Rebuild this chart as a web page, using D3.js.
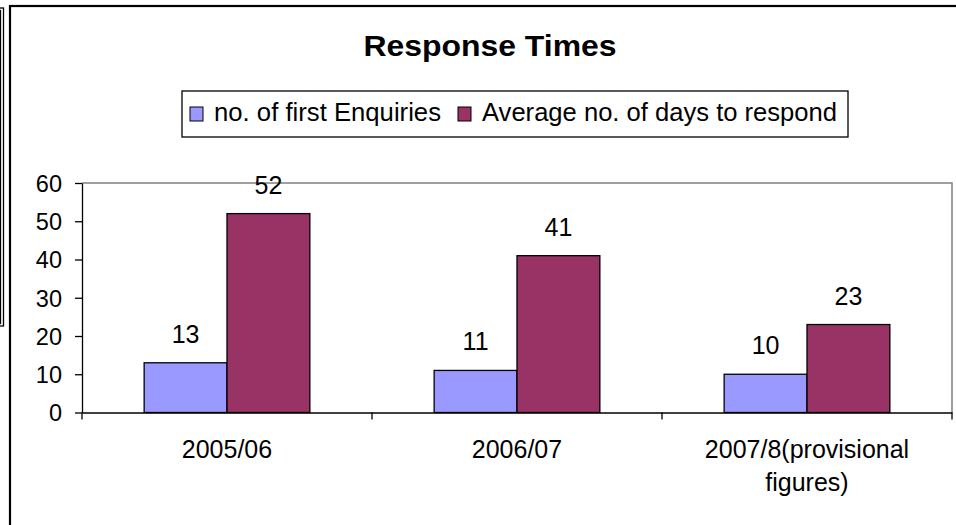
<!DOCTYPE html>
<html>
<head>
<meta charset="utf-8">
<script src="https://cdn.jsdelivr.net/npm/d3@7"></script>
<style>
  html, body { margin: 0; padding: 0; background: #fff; }
  svg { display: block; font-family: "Liberation Sans", Arial, sans-serif; }
</style>
</head>
<body>
<svg id="chart" width="956" height="525"></svg>
<script>
// Chart data
const categories = ["2005/06", "2006/07", "2007/8(provisional figures)"];
const seriesNames = ["no. of first Enquiries", "Average no. of days to respond"];
const firstEnquiries = [13, 11, 10];
const avgDaysToRespond = [52, 41, 23];
const yTicks = [0, 10, 20, 30, 40, 50, 60];
const seriesColors = ["#9999FF", "#993366"];

const svg = d3.select("#chart");

// Side panel edge (double outline) at the far left
svg.append("rect").attr("x", -20).attr("y", 8).attr("width", 23.5).attr("height", 318)
  .attr("fill", "none").attr("stroke", "#000").attr("stroke-width", 1.3);
svg.append("rect").attr("x", -20).attr("y", 10.5).attr("width", 20.5).attr("height", 313)
  .attr("fill", "none").attr("stroke", "#000").attr("stroke-width", 1.3);

// Chart area frame
svg.append("rect").attr("x", 10).attr("y", 6).attr("width", 1000).attr("height", 1000)
  .attr("fill", "#fff").attr("stroke", "#000").attr("stroke-width", 2.2);

// Plot area
const plot = { left: 82, right: 952, top: 183, bottom: 412.5 };

const x0 = d3.scaleBand().domain(categories).range([plot.left, plot.right]).padding(0);
const x1 = d3.scaleBand().domain(seriesNames).range([0, x0.bandwidth()])
  .paddingInner(0).paddingOuter(0.75);
const y = d3.scaleLinear().domain([0, 60]).range([plot.bottom, plot.top]);

// Plot area border (grey top and right)
svg.append("path")
  .attr("d", `M${plot.left},${plot.top}H${plot.right}V${plot.bottom}`)
  .attr("fill", "none").attr("stroke", "#808080").attr("stroke-width", 1.5);

// Title
svg.append("text")
  .attr("x", 490).attr("y", 56)
  .attr("text-anchor", "middle")
  .attr("font-size", 29).attr("font-weight", "bold")
  .attr("textLength", 253).attr("lengthAdjust", "spacingAndGlyphs")
  .text("Response Times");

// Legend
const legend = svg.append("g");
legend.append("rect").attr("x", 182).attr("y", 91).attr("width", 666).attr("height", 46)
  .attr("fill", "#fff").attr("stroke", "#000").attr("stroke-width", 1.3);
const legendItems = [
  { name: seriesNames[0], color: seriesColors[0], mx: 190, tx: 214, tl: 227 },
  { name: seriesNames[1], color: seriesColors[1], mx: 458, tx: 482, tl: 355 }
];
legendItems.forEach(it => {
  legend.append("rect").attr("x", it.mx).attr("y", 107).attr("width", 13).attr("height", 14)
    .attr("fill", it.color).attr("stroke", "#000").attr("stroke-width", 1);
  legend.append("text").attr("x", it.tx).attr("y", 120.5)
    .attr("font-size", 25.5)
    .attr("textLength", it.tl).attr("lengthAdjust", "spacingAndGlyphs")
    .text(it.name);
});

// Bars
const rows = categories.map((c, i) => ({
  category: c,
  values: [
    { series: seriesNames[0], value: firstEnquiries[i], color: seriesColors[0] },
    { series: seriesNames[1], value: avgDaysToRespond[i], color: seriesColors[1] }
  ]
}));

const groups = svg.append("g").selectAll("g").data(rows).join("g")
  .attr("transform", d => `translate(${x0(d.category)},0)`);

groups.selectAll("rect").data(d => d.values).join("rect")
  .attr("x", d => x1(d.series))
  .attr("y", d => y(d.value))
  .attr("width", x1.bandwidth())
  .attr("height", d => y(0) - y(d.value))
  .attr("fill", d => d.color)
  .attr("stroke", "#000").attr("stroke-width", 1.3);

// Value labels
groups.selectAll("text").data(d => d.values).join("text")
  .attr("x", d => x1(d.series) + x1.bandwidth() / 2)
  .attr("y", d => y(d.value) - 20)
  .attr("text-anchor", "middle")
  .attr("font-size", 25)
  .text(d => d.value);

// Y axis
const yAxis = svg.append("g").attr("transform", `translate(${plot.left},0)`)
  .call(d3.axisLeft(y).tickValues(yTicks).tickSize(7).tickPadding(13).tickSizeOuter(0));
yAxis.select(".domain").attr("stroke", "#000").attr("stroke-width", 1.3);
yAxis.selectAll(".tick line").attr("stroke", "#000").attr("stroke-width", 1.3);
yAxis.selectAll(".tick text").attr("font-size", 23.5).attr("fill", "#000")
  .attr("font-family", "'Liberation Sans', Arial, sans-serif").attr("dy", "0.36em");

// X axis: labels centred in each band, ticks on band boundaries
const xAxis = svg.append("g").attr("transform", `translate(0,${plot.bottom})`)
  .call(d3.axisBottom(x0).tickSize(0).tickPadding(0).tickSizeOuter(0));
xAxis.select(".domain").attr("stroke", "#000").attr("stroke-width", 1.3);
xAxis.selectAll(".tick text").each(function(d) {
  const t = d3.select(this);
  const words = d.split(" ");
  t.text(null).attr("font-size", 25).attr("fill", "#000")
    .attr("font-family", "'Liberation Sans', Arial, sans-serif").attr("dy", null).attr("y", 0);
  words.forEach((w, i) => {
    t.append("tspan").attr("x", 0).attr("y", 45.5 + i * 33).text(w);
  });
});
const boundaries = [plot.left].concat(categories.map(c => x0(c) + x0.bandwidth()));
xAxis.selectAll("line.boundary").data(boundaries).join("line")
  .attr("class", "boundary")
  .attr("x1", d => d).attr("x2", d => d)
  .attr("y1", 0).attr("y2", 7)
  .attr("stroke", "#000").attr("stroke-width", 1.3);
</script>
</body>
</html>
